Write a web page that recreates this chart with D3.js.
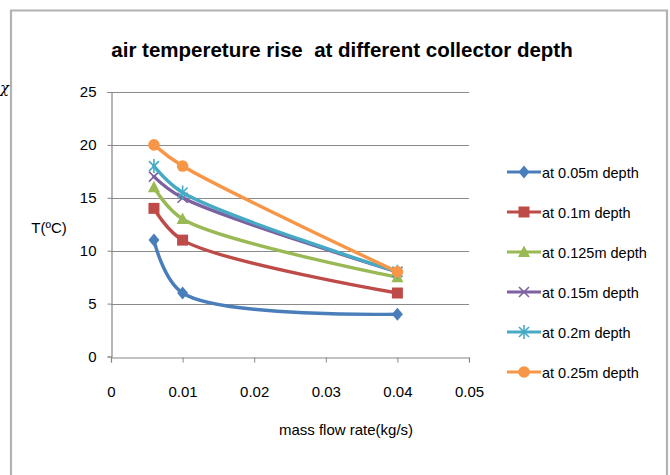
<!DOCTYPE html>
<html>
<head>
<meta charset="utf-8">
<script src="https://cdn.jsdelivr.net/npm/d3@7"></script>
<style>
  html, body { margin: 0; padding: 0; background: #fff; }
  svg { display: block; }
  text { font-family: "Liberation Sans", Arial, sans-serif; fill: #000; }
</style>
</head>
<body>
<svg id="chart" width="670" height="475"></svg>
<script>
// mass flow rate values (kg/s)
const massFlow = [0.006, 0.01, 0.04];

// temperature rise (°C) for each collector depth
const depth005 = [11, 6, 4];
const depth010 = [14, 11, 6];
const depth0125 = [16, 13, 7.5];
const depth015 = [17, 15, 8];
const depth020 = [18, 15.5, 8];
const depth025 = [20, 18, 8];

const seriesNames = ["at 0.05m depth", "at 0.1m depth", "at 0.125m depth",
                     "at 0.15m depth", "at 0.2m depth", "at 0.25m depth"];
const seriesValues = [depth005, depth010, depth0125, depth015, depth020, depth025];
const seriesColors = ["#4A7EBB", "#BE4B48", "#98B954", "#7D60A0", "#46AAC5", "#F79646"];
const seriesMarkers = ["diamond", "square", "triangle", "cross", "star", "circle"];

const xTicks = [0, 0.01, 0.02, 0.03, 0.04, 0.05];
const yTicks = [0, 5, 10, 15, 20, 25];

const titleText = "air tempereture rise  at different collector depth";
const xLabel = "mass flow rate(kg/s)";
const yLabel = "T(ºC)";

const svg = d3.select("#chart");

// outer chart frame (open at the bottom edge of the view)
svg.append("path")
  .attr("d", "M11,480 V10.5 H667 V480")
  .attr("fill", "none")
  .attr("stroke", "#b2b2b2")
  .attr("stroke-width", 2.2);

// stray glyph left of the frame
svg.append("text")
  .attr("x", 0).attr("y", 93)
  .style("font-family", "'DejaVu Serif', serif")
  .style("font-style", "italic")
  .style("font-size", "15px")
  .text("χ");

const plot = { left: 111, right: 469, top: 92, bottom: 356.5 };

const x = d3.scaleLinear().domain([0, 0.05]).range([plot.left, plot.right]);
const y = d3.scaleLinear().domain([0, 25]).range([plot.bottom, plot.top]);

// title (keeps its double space)
svg.append("text")
  .attr("x", 342).attr("y", 57)
  .attr("text-anchor", "middle")
  .attr("xml:space", "preserve")
  .style("white-space", "pre")
  .style("font-weight", "bold")
  .style("font-size", "20.5px")
  .text(titleText);

// horizontal gridlines
svg.append("g")
  .selectAll("line")
  .data(yTicks.filter(d => d > 0))
  .join("line")
  .attr("x1", plot.left).attr("x2", plot.right)
  .attr("y1", d => Math.round(y(d)) + 0.5).attr("y2", d => Math.round(y(d)) + 0.5)
  .attr("stroke", "#8a8a8a").attr("stroke-width", 1.2);

// y axis
const yAxis = d3.axisLeft(y).tickValues(yTicks).tickSize(4).tickPadding(11)
  .tickFormat(d3.format("d"));
const gy = svg.append("g")
  .attr("transform", `translate(${plot.left + 0.5},0)`)
  .call(yAxis);
gy.select(".domain").attr("stroke", "#868686").attr("stroke-width", 1.2);
gy.selectAll(".tick line").attr("stroke", "#868686");
gy.selectAll(".tick text")
  .style("font-size", "15px")
  .style("font-family", "'Liberation Sans', Arial, sans-serif");

// x axis
const xAxis = d3.axisBottom(x).tickValues(xTicks).tickSize(5).tickPadding(24)
  .tickFormat(d => d === 0 ? "0" : d3.format(".2f")(d));
const gx = svg.append("g")
  .attr("transform", `translate(0,${Math.round(plot.bottom) + 0.5})`)
  .call(xAxis);
gx.select(".domain").attr("stroke", "#868686").attr("stroke-width", 1.2);
gx.selectAll(".tick line").attr("stroke", "#868686");
gx.selectAll(".tick text")
  .style("font-size", "15px")
  .style("font-family", "'Liberation Sans', Arial, sans-serif");

// axis titles
svg.append("text")
  .attr("x", 346).attr("y", 435)
  .attr("text-anchor", "middle")
  .style("font-size", "15px")
  .text(xLabel);

svg.append("text")
  .attr("x", 49).attr("y", 233)
  .attr("text-anchor", "middle")
  .style("font-size", "15px")
  .text(yLabel);

// marker shapes
function drawMarker(g, type, color) {
  if (type === "diamond") {
    g.append("path").attr("d", "M0,-6.5 L5.5,0 L0,6.5 L-5.5,0 Z").attr("fill", color);
  } else if (type === "square") {
    g.append("rect").attr("x", -5.5).attr("y", -5.5).attr("width", 11).attr("height", 11).attr("fill", color);
  } else if (type === "triangle") {
    g.append("path").attr("d", "M0,-6.5 L6,5 L-6,5 Z").attr("fill", color);
  } else if (type === "cross") {
    g.append("path").attr("d", "M-5,-5 L5,5 M-5,5 L5,-5")
      .attr("stroke", color).attr("stroke-width", 1.6).attr("fill", "none");
  } else if (type === "star") {
    g.append("path").attr("d", "M-5,-5 L5,5 M-5,5 L5,-5 M0,-7 L0,7")
      .attr("stroke", color).attr("stroke-width", 1.6).attr("fill", "none");
  } else if (type === "circle") {
    g.append("circle").attr("r", 5.8).attr("fill", color);
  }
}

const line = d3.line()
  .x(d => x(d[0]))
  .y(d => y(d[1]))
  .curve(d3.curveCatmullRom.alpha(0.5));

const series = svg.append("g");
seriesValues.forEach((vals, i) => {
  const pts = massFlow.map((m, j) => [m, vals[j]]);
  const g = series.append("g");
  g.append("path")
    .attr("d", line(pts))
    .attr("fill", "none")
    .attr("stroke", seriesColors[i])
    .attr("stroke-width", 3.4)
    .attr("stroke-linejoin", "round")
    .attr("stroke-linecap", "round");
  pts.forEach(p => {
    const mg = g.append("g").attr("transform", `translate(${x(p[0])},${y(p[1])})`);
    drawMarker(mg, seriesMarkers[i], seriesColors[i]);
  });
});

// legend
const legend = svg.append("g");
const legendRowY = d3.scaleLinear().domain([0, 5]).range([172, 372]);
seriesNames.forEach((name, i) => {
  const ry = legendRowY(i);
  const g = legend.append("g").attr("transform", `translate(0,${ry})`);
  g.append("line")
    .attr("x1", 507).attr("x2", 541)
    .attr("stroke", seriesColors[i]).attr("stroke-width", 3);
  const mg = g.append("g").attr("transform", "translate(524,0)");
  drawMarker(mg, seriesMarkers[i], seriesColors[i]);
  g.append("text")
    .attr("x", 542).attr("y", 5.5)
    .style("font-size", "14.5px")
    .text(name);
});
</script>
</body>
</html>
